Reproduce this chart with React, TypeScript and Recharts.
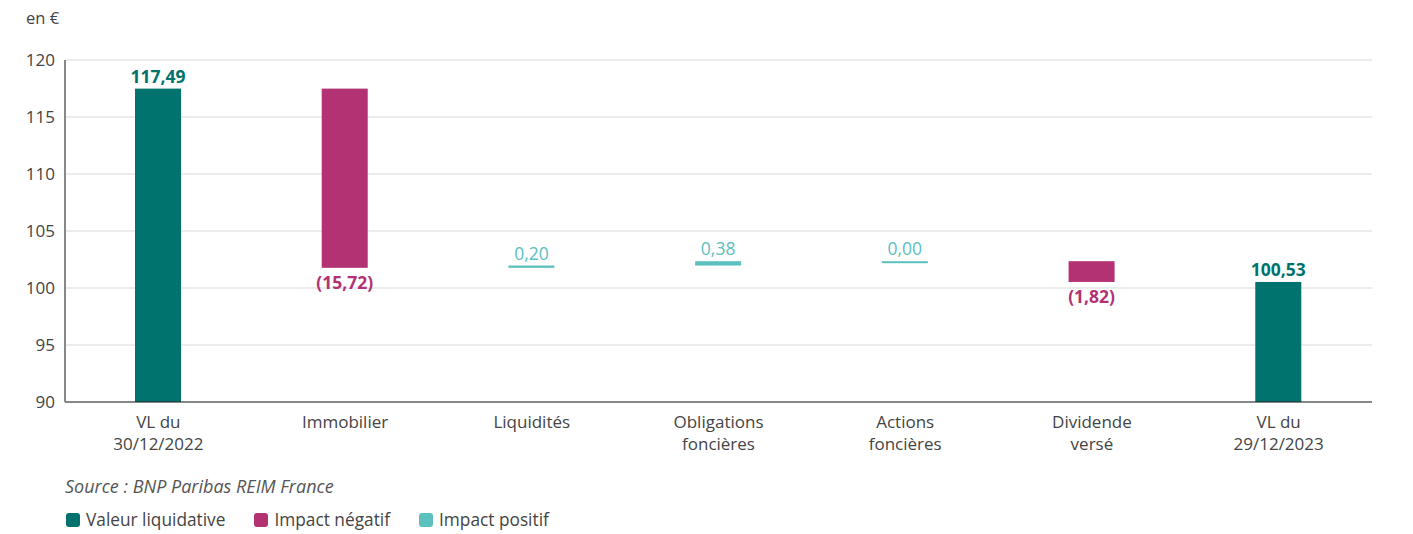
import { BarChart, Bar, XAxis, YAxis, CartesianGrid } from 'recharts';

const categories = [
    ['VL du', '30/12/2022'],
    ['Immobilier'],
    ['Liquidités'],
    ['Obligations', 'foncières'],
    ['Actions', 'foncières'],
    ['Dividende', 'versé'],
    ['VL du', '29/12/2023'],
];
// total = valeur liquidative, delta = impact
const kinds = ['total', 'delta', 'delta', 'delta', 'delta', 'delta', 'total'];
const values = [117.49, -15.72, 0.2, 0.38, 0.0, -1.82, 100.53];
const yTicks = [90, 95, 100, 105, 110, 115, 120];

const TEAL = '#00736e';
const MAGENTA = '#b33273';
const LIGHT = '#5bc0be';
const FONT = '"Open Sans", "Noto Sans", sans-serif';

const fmt = (v: number) => Math.abs(v).toFixed(2).replace('.', ',');

let running = 0;
const data = categories.map((c, i) => {
    const v = values[i];
    let range: [number, number];
    if (kinds[i] === 'total') {
        running = v;
        range = [90, v];
    } else {
        const start = running;
        running = start + v;
        range = [Math.min(start, running), Math.max(start, running)];
    }
    return { name: c.join('\n'), range, value: v, kind: kinds[i] };
});

function colorFor(d: any) {
    if (d.kind === 'total') return TEAL;
    return d.value < 0 ? MAGENTA : LIGHT;
}

function BarShape(props: any) {
    const { x, y, width, height, payload } = props;
    const top = Math.min(y, y + height);
    let h = Math.abs(height);
    if (h < 2) h = 2;
    const fill = colorFor(payload);
    const neg = payload.kind === 'delta' && payload.value < 0;
    const bold = payload.kind === 'total' || neg;
    const label = neg ? `(${fmt(payload.value)})` : fmt(payload.value);
    const ty = neg ? top + h + 21 : top - 6;
    return (
        <g>
            <rect x={x} y={top} width={width} height={h} fill={fill} />
            <text
                x={x + width / 2}
                y={ty}
                textAnchor="middle"
                fill={fill}
                fontSize={17.5}
                fontWeight={bold ? 700 : 400}
                fontFamily={FONT}
            >
                {label}
            </text>
        </g>
    );
}

function CatTick(props: any) {
    const { x, y, payload } = props;
    const lines = String(payload.value).split('\n');
    return (
        <text x={x} y={y} textAnchor="middle" fill="#444" fontSize={17} fontFamily={FONT}>
            {lines.map((l, i) => (
                <tspan key={i} x={x} dy={i === 0 ? 18 : 22}>{l}</tspan>
            ))}
        </text>
    );
}

const legend = [
    { label: 'Valeur liquidative', color: TEAL },
    { label: 'Impact négatif', color: MAGENTA },
    { label: 'Impact positif', color: LIGHT },
];

export default function App() {
    return (
        <div style={{ position: 'relative', width: 1397, height: 526, fontFamily: FONT, color: '#444' }}>
            <div style={{ position: 'absolute', left: 18, top: -2, fontSize: 16.5 }}>en €</div>
            <div style={{ position: 'absolute', left: 0, top: 0 }}>
                <BarChart
                    width={1390}
                    height={460}
                    data={data}
                    barSize={46}
                    margin={{ top: 52, right: 26, left: 0, bottom: 0 }}
                >
                    <CartesianGrid vertical={false} stroke="#d9d9d9" />
                    <XAxis
                        dataKey="name"
                        height={66}
                        interval={0}
                        tickLine={false}
                        axisLine={{ stroke: '#222' }}
                        tick={<CatTick />}
                    />
                    <YAxis
                        width={57}
                        domain={[90, 120]}
                        ticks={yTicks}
                        tickLine={false}
                        axisLine={{ stroke: '#888', strokeWidth: 2 }}
                        tick={{ fill: '#444', fontSize: 17, fontFamily: FONT }}
                        tickMargin={4}
                    />
                    <Bar dataKey="range" shape={<BarShape />} isAnimationActive={false} />
                </BarChart>
            </div>
            <div style={{ position: 'absolute', left: 57, top: 466, fontSize: 18, fontStyle: 'italic', color: '#555' }}>
                Source : BNP Paribas REIM France
            </div>
            <div style={{ position: 'absolute', left: 58, top: 500, display: 'flex', fontSize: 17.3, color: '#444' }}>
                {legend.map((l) => (
                    <div key={l.label} style={{ display: 'flex', alignItems: 'center', marginRight: 29 }}>
                        <span style={{ width: 14, height: 14, borderRadius: 3, background: l.color, marginRight: 6, display: 'inline-block' }} />
                        <span>{l.label}</span>
                    </div>
                ))}
            </div>
        </div>
    );
}
